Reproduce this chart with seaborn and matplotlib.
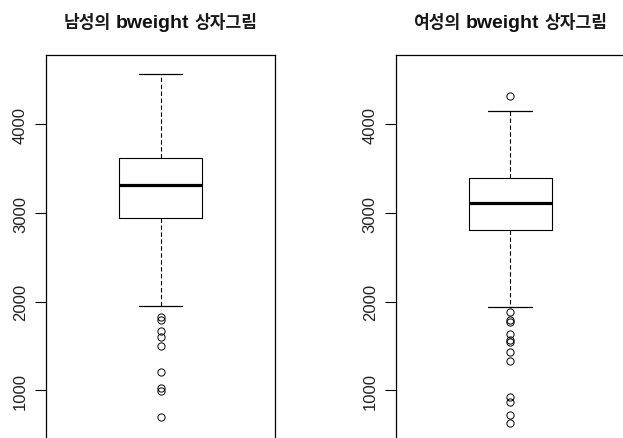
import matplotlib
matplotlib.use("Agg")
import matplotlib.pyplot as plt
from matplotlib.offsetbox import TextArea, HPacker, AnchoredOffsetbox
import seaborn as sns

# ---- data ----
title_parts = [("남성의", "bweight", "상자그림"), ("여성의", "bweight", "상자그림")]
male_box = [1955, 2938, 3311, 3616, 4565]          # whislo, q1, med, q3, whishi
male_fliers = [1823, 1797, 1672, 1604, 1503, 1209, 1028, 986, 701]
female_box = [1944, 2810, 3115, 3398, 4147]
female_fliers = [4316, 1884, 1797, 1766, 1635, 1571, 1545, 1432, 1333, 918, 868, 715, 632]
y_ticks = [1000, 2000, 3000, 4000]
y_limits = (-184, 4784)

sns.set_theme(style="white")
plt.rcParams["font.family"] = ["Liberation Sans", "Noto Sans CJK KR", "DejaVu Sans"]
plt.rcParams["lines.scale_dashes"] = False


def make_stats(box, fliers, label):
    return [dict(whislo=box[0], q1=box[1], med=box[2], q3=box[3],
                 whishi=box[4], fliers=fliers, label=label)]


W, H = 623, 439
fig = plt.figure(figsize=(W / 100, H / 100), dpi=100)
fig.patch.set_facecolor("white")

ax_h_px = 440.0
ax_top_px = 56.0
bottom = (H - (ax_top_px + ax_h_px)) / H
height = ax_h_px / H
ax1 = fig.add_axes([46 / W, bottom, 229 / W, height])
ax2 = fig.add_axes([395.7 / W, bottom, 229 / W, height])

datasets = [(male_box, male_fliers), (female_box, female_fliers)]
for ax, (box, fl), parts in zip([ax1, ax2], datasets, title_parts):
    ax.set_facecolor("white")
    ax.bxp(make_stats(box, fl, ""), positions=[1], widths=0.3625,
           capwidths=0.19, showfliers=True,
           boxprops=dict(color="black", lw=0.8),
           medianprops=dict(color="black", lw=2.3, solid_capstyle="butt"),
           whiskerprops=dict(color="black", lw=0.8, linestyle=(0, (3.2, 1.8))),
           capprops=dict(color="black", lw=0.9),
           flierprops=dict(marker="o", markerfacecolor="none",
                           markeredgecolor="black", markersize=5.2,
                           markeredgewidth=0.7, linestyle="none"))
    ax.set_xlim(0.5, 1.5)
    ax.set_ylim(*y_limits)
    ax.set_xticks([])
    ax.set_yticks(y_ticks)
    ax.set_yticklabels([str(t) for t in y_ticks])
    ax.tick_params(axis="y", left=True, length=7.9, width=0.8, pad=5,
                   labelsize=12, labelrotation=90, color="black",
                   labelcolor="#222222")
    for lab in ax.get_yticklabels():
        lab.set_va("center")
    for sp in ax.spines.values():
        sp.set_visible(True)
        sp.set_color("black")
        sp.set_linewidth(0.9)
    ax.grid(False)

    ko = dict(family=["Noto Sans CJK KR"], fontsize=12.3, fontweight="bold",
              color="#1a1a1a")
    en = dict(family=["Liberation Sans"], fontsize=14, fontweight="bold",
              color="#111111")
    packer = HPacker(children=[TextArea(parts[0], textprops=ko),
                               TextArea(parts[1], textprops=en),
                               TextArea(parts[2], textprops=ko)],
                     align="baseline", pad=0, sep=3.6)
    anch = AnchoredOffsetbox(loc="lower center", child=packer, pad=0,
                             borderpad=0, frameon=False,
                             bbox_to_anchor=(0.5, 1 + 24 / ax_h_px),
                             bbox_transform=ax.transAxes)
    ax.add_artist(anch)

fig.savefig("out.png", dpi=100, facecolor="white")
